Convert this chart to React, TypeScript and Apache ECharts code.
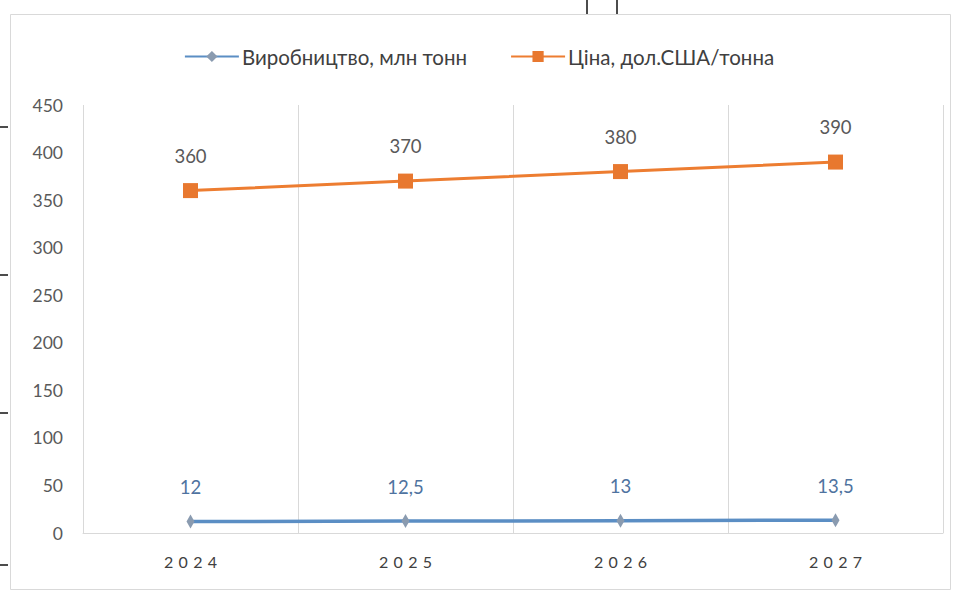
import React, { useEffect, useRef } from "react";
import * as echarts from "echarts";

const years = ["2024", "2025", "2026", "2027"];
const production = [12, 12.5, 13, 13.5];
const price = [360, 370, 380, 390];
const seriesNames = ["Виробництво, млн тонн", "Ціна, дол.США/тонна"];

const FONT = "Lato, 'Open Sans', sans-serif";

export default function App() {
  const ref = useRef<HTMLDivElement>(null);
  useEffect(() => {
    if (!ref.current) return;
    const chart = echarts.init(ref.current, undefined, { renderer: "svg" });
    const fmtNum = (v: number) => String(v).replace(".", ",");
    chart.setOption({
      animation: false,
      backgroundColor: "#ffffff",
      textStyle: { fontFamily: FONT },
      legend: {
        top: 41,
        left: "center",
        itemWidth: 54,
        itemHeight: 14,
        itemGap: 43,
        textStyle: { fontFamily: FONT, fontSize: 20.5, color: "#404040", padding: [0, 0, 0, -2] },
        data: seriesNames,
      },
      grid: { left: 83, right: 15, top: 105, bottom: 61, containLabel: false },
      xAxis: {
        type: "category",
        data: years,
        boundaryGap: true,
        axisLine: { show: true, lineStyle: { color: "#d9d9d9", width: 1 } },
        axisTick: { show: false },
        splitLine: { show: true, lineStyle: { color: "#d9d9d9", width: 1 } },
        axisLabel: {
          color: "#404040",
          fontSize: 16,
          fontFamily: FONT,
          margin: 20,
          formatter: (v: string) => v.split("").join("\u2004"),
        },
      },
      yAxis: {
        type: "value",
        min: 0,
        max: 450,
        interval: 50,
        axisLine: { show: false },
        axisTick: { show: false },
        splitLine: { show: false },
        axisLabel: { color: "#595959", fontSize: 17.5, fontFamily: FONT, margin: 20 },
      },
      series: [
        {
          name: seriesNames[0],
          type: "line",
          data: production,
          symbol: "diamond",
          symbolSize: [8, 14],
          itemStyle: { color: "#8a9bb0" },
          lineStyle: { color: "#5b8ec4", width: 3.5 },
          label: {
            show: true,
            position: "top",
            distance: 18,
            color: "#4f73a0",
            fontSize: 18.5,
            fontFamily: FONT,
            formatter: (p: any) => fmtNum(p.value),
          },
          z: 3,
        },
        {
          name: seriesNames[1],
          type: "line",
          data: price,
          symbol: "rect",
          symbolSize: 15,
          itemStyle: { color: "#e8782f" },
          lineStyle: { color: "#ed7d31", width: 3 },
          label: {
            show: true,
            position: "top",
            distance: 18,
            color: "#595959",
            fontSize: 18.5,
            fontFamily: FONT,
            formatter: (p: any) => fmtNum(p.value),
          },
          z: 3,
        },
      ],
      graphic: [
        {
          type: "rect",
          shape: { x: 10.5, y: 14.5, width: 940, height: 575 },
          style: { fill: "none", stroke: "#d9d9d9", lineWidth: 1 },
          silent: true,
        },
        { type: "line", shape: { x1: 587, y1: 0, x2: 587, y2: 14 }, style: { stroke: "#111", lineWidth: 1.5 } },
        { type: "line", shape: { x1: 617, y1: 0, x2: 617, y2: 14 }, style: { stroke: "#111", lineWidth: 1.5 } },
        { type: "line", shape: { x1: 0, y1: 127, x2: 8, y2: 127 }, style: { stroke: "#111", lineWidth: 1.5 } },
        { type: "line", shape: { x1: 0, y1: 275, x2: 8, y2: 275 }, style: { stroke: "#111", lineWidth: 1.5 } },
        { type: "line", shape: { x1: 0, y1: 413, x2: 8, y2: 413 }, style: { stroke: "#111", lineWidth: 1.5 } },
        { type: "line", shape: { x1: 0, y1: 565, x2: 8, y2: 565 }, style: { stroke: "#111", lineWidth: 1.5 } },
      ],
    });
    return () => chart.dispose();
  }, []);
  return (
    <div
      ref={ref}
      style={{ position: "absolute", left: 0, top: 0, width: 958, height: 594 }}
    />
  );
}
